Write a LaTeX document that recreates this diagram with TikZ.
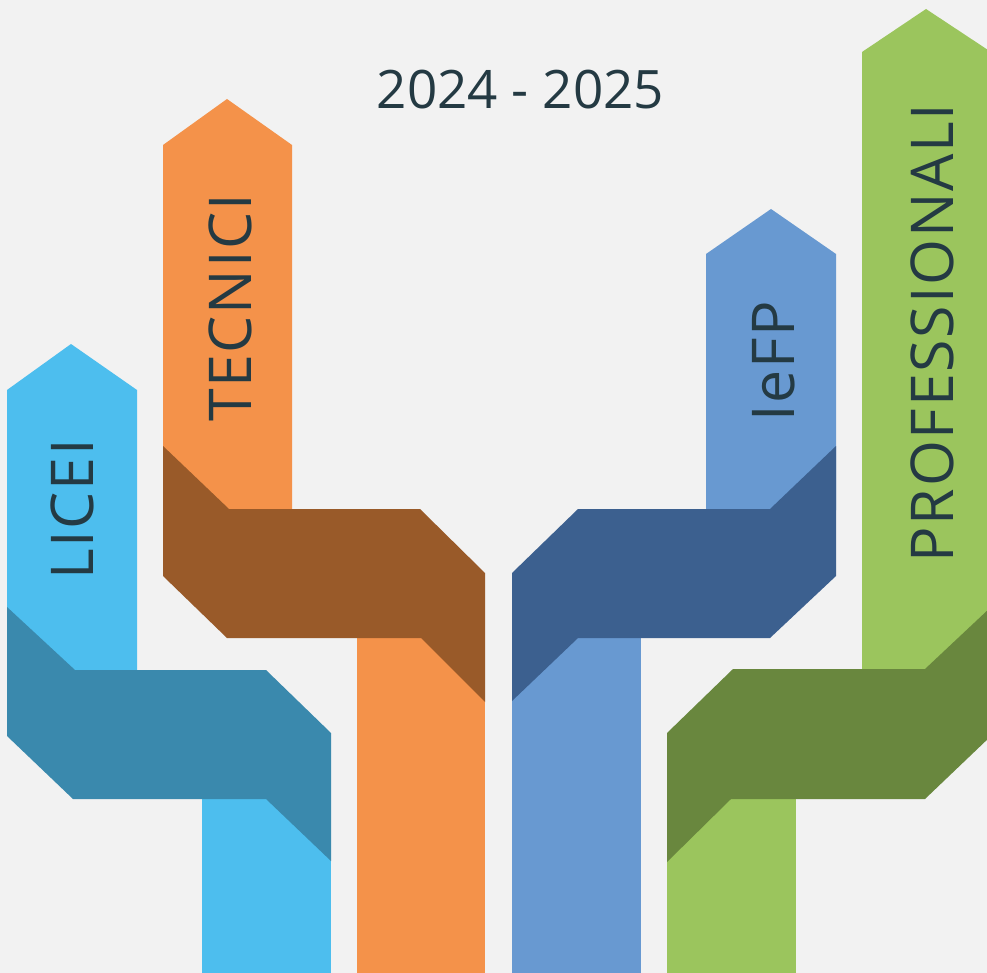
\documentclass[tikz,border=0pt]{standalone}
\usepackage{fontspec}
\setmainfont{Open Sans}
\definecolor{bgcol}{HTML}{F2F2F2}
\definecolor{inkcol}{HTML}{243A43}
\definecolor{liceicol}{HTML}{4DBEEE}
\definecolor{liceidark}{HTML}{3A89AD}
\definecolor{tecnicol}{HTML}{F4924A}
\definecolor{tecnidark}{HTML}{995A29}
\definecolor{iefpcol}{HTML}{6899D1}
\definecolor{iefpdark}{HTML}{3C608F}
\definecolor{profcol}{HTML}{9BC55D}
\definecolor{profdark}{HTML}{69873E}

\begin{document}
\begin{tikzpicture}[x=1pt,y=-1pt,
    pathlabel/.style={rotate=90,text=inkcol,inner sep=0pt,font=\fontsize{59}{59}\selectfont\addfontfeature{LetterSpace=3}}]
        \useasboundingbox (0,0) rectangle (987,973);
        \clip (0,0) rectangle (987,973);
        \fill[bgcol] (0,0) rectangle (987,973);

        \fill[liceicol] (7,670) -- (7,390) -- (71,344) -- (137,390) -- (137,670) -- cycle;
        \fill[liceicol] (202,799) rectangle (331,973);
        \fill[liceidark] (7,607) -- (75,670) -- (266,670) -- (331,733) -- (331,861) -- (266,799) -- (73,799) -- (7,736) -- cycle;

        \fill[tecnicol] (163,510) -- (163,145) -- (227,99) -- (292,145) -- (292,510) -- cycle;
        \fill[tecnicol] (357,638) rectangle (485,973);
        \fill[tecnidark] (163,446) -- (229,509) -- (420,509) -- (485,573) -- (485,702) -- (421,638) -- (227,638) -- (163,576) -- cycle;

        \fill[iefpcol] (706,510) -- (706,254) -- (771,209) -- (836,254) -- (836,510) -- cycle;
        \fill[iefpcol] (512,638) rectangle (641,973);
        \fill[iefpdark] (836,446) -- (770,509) -- (578,509) -- (512,573) -- (512,701) -- (578,638) -- (770,638) -- (836,576) -- cycle;

        \fill[profcol] (862,670) -- (862,52) -- (926,9) -- (991,52) -- (991,670) -- cycle;
        \fill[profcol] (667,799) rectangle (796,973);
        \fill[profdark] (991,607) -- (925,669) -- (733,669) -- (667,733) -- (667,862) -- (731,799) -- (925,799) -- (991,736) -- cycle;

        \node[text=inkcol,inner sep=0pt,font=\fontsize{53}{53}\selectfont] (year) at (520.5,90) {2024 - 2025};
        \node[pathlabel] (licei) at (72,509.5) {LICEI};
        \node[pathlabel] (tecnici) at (230.5,308) {TECNICI};
        \node[pathlabel] (iefp) at (774,361) {IeFP};
        \node[pathlabel] (prof) at (932.7,333) {PROFESSIONALI};
    \end{tikzpicture}
\end{document}
